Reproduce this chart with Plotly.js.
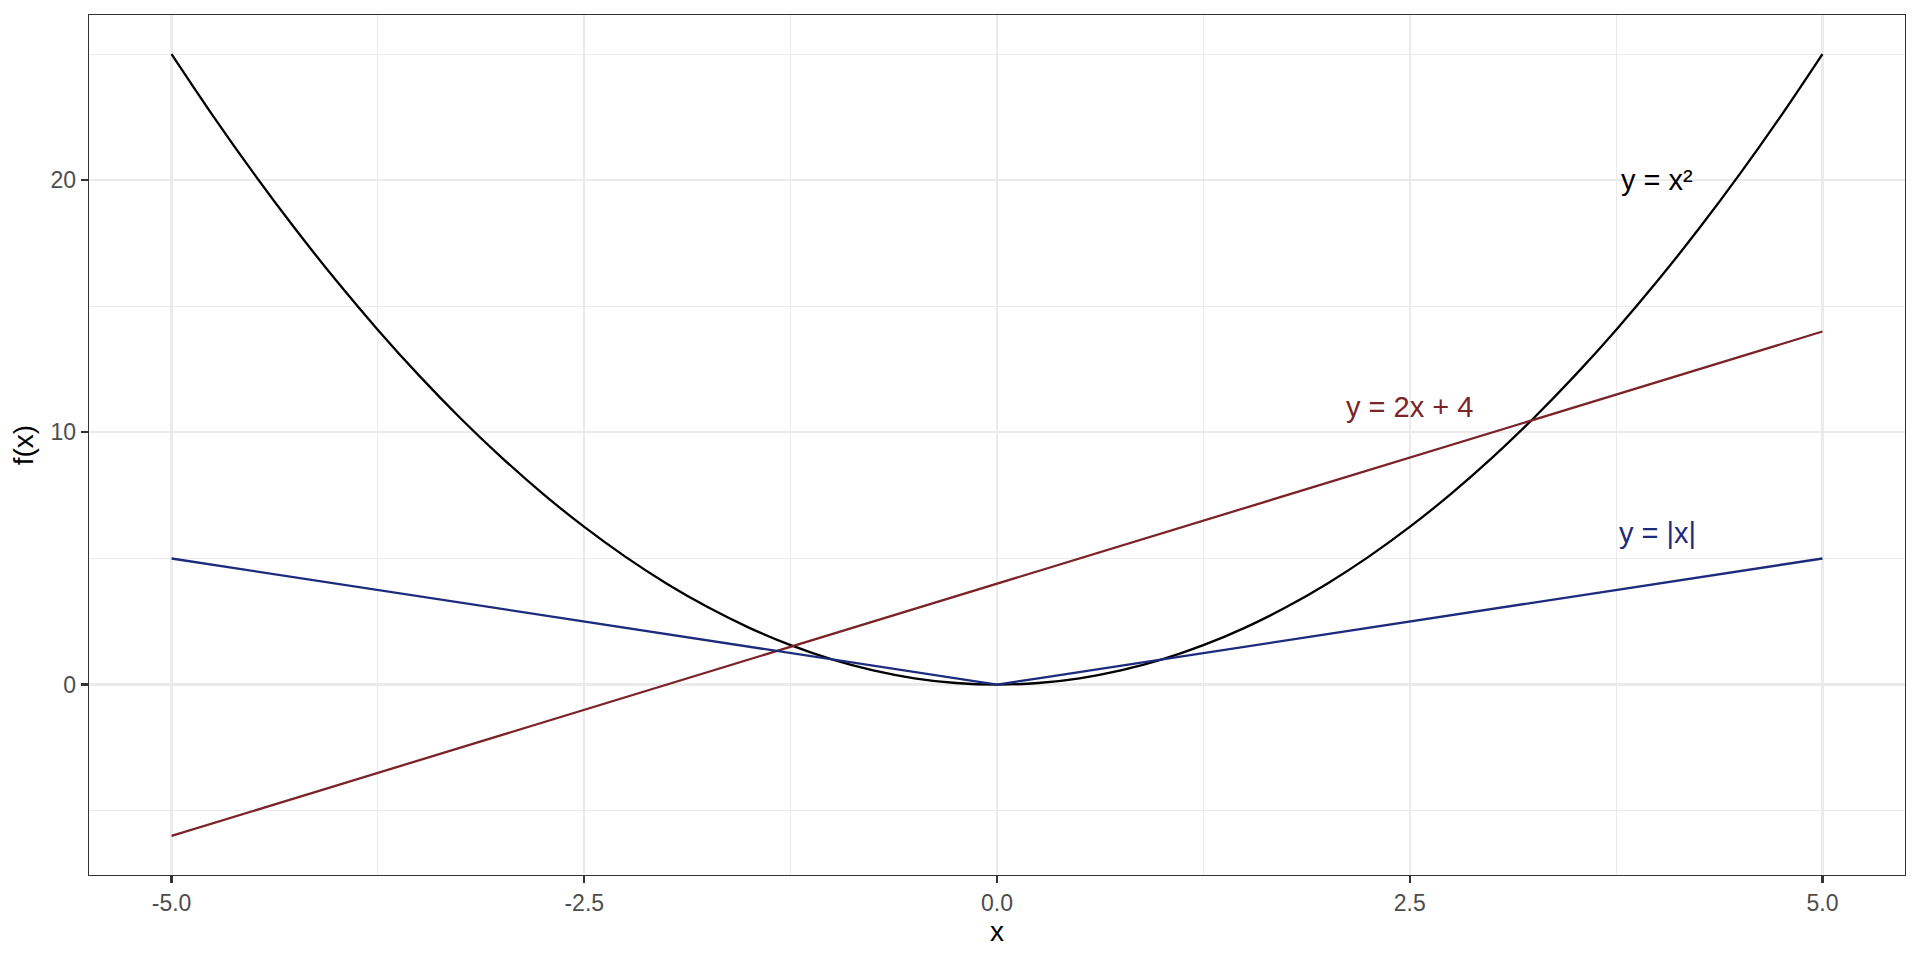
<!DOCTYPE html>
<html>
<head>
<meta charset="utf-8">
<script src="https://cdn.plot.ly/plotly-3.0.1.min.js"></script>
<style>html,body{margin:0;padding:0;background:#fff;}#chart{width:1920px;height:960px;}</style>
</head>
<body>
<div id="chart"></div>
<script>
const xVals = [-5,-4.75,-4.5,-4.25,-4,-3.75,-3.5,-3.25,-3,-2.75,-2.5,-2.25,-2,-1.75,-1.5,-1.25,-1,-0.75,-0.5,-0.25,0,0.25,0.5,0.75,1,1.25,1.5,1.75,2,2.25,2.5,2.75,3,3.25,3.5,3.75,4,4.25,4.5,4.75,5];
const ySquare = [25,22.5625,20.25,18.0625,16,14.0625,12.25,10.5625,9,7.5625,6.25,5.0625,4,3.0625,2.25,1.5625,1,0.5625,0.25,0.0625,0,0.0625,0.25,0.5625,1,1.5625,2.25,3.0625,4,5.0625,6.25,7.5625,9,10.5625,12.25,14.0625,16,18.0625,20.25,22.5625,25];
const yLinear = [-6,-5.5,-5,-4.5,-4,-3.5,-3,-2.5,-2,-1.5,-1,-0.5,0,0.5,1,1.5,2,2.5,3,3.5,4,4.5,5,5.5,6,6.5,7,7.5,8,8.5,9,9.5,10,10.5,11,11.5,12,12.5,13,13.5,14];
const yAbs = [5,4.75,4.5,4.25,4,3.75,3.5,3.25,3,2.75,2.5,2.25,2,1.75,1.5,1.25,1,0.75,0.5,0.25,0,0.25,0.5,0.75,1,1.25,1.5,1.75,2,2.25,2.5,2.75,3,3.25,3.5,3.75,4,4.25,4.5,4.75,5];

const seriesNames = ["y = x²", "y = 2x + 4", "y = |x|"];
const seriesY = [ySquare, yLinear, yAbs];
const seriesColors = ["#000000", "#7B2428", "#1D2B7D"];
const seriesShape = ["spline", "linear", "linear"];
const labelX = [4, 2.5, 4];
const labelY = [20, 11, 6];

const xTickVals = [-5, -2.5, 0, 2.5, 5];
const xTickText = ["-5.0", "-2.5", "0.0", "2.5", "5.0"];
const yTickVals = [0, 10, 20];
const yTickText = ["0", "10", "20"];

const traces = seriesY.map((ys, i) => ({
  x: xVals, y: ys, type: "scatter", mode: "lines", name: seriesNames[i],
  line: {color: seriesColors[i], width: 2.3, shape: seriesShape[i], smoothing: 1}, hoverinfo: "skip"
}));

const font = "Liberation Sans, Arial, sans-serif";
const annotations = seriesNames.map((t, i) => ({
  x: labelX[i], y: labelY[i], xref: "x", yref: "y", text: t, showarrow: false,
  xanchor: "center", yanchor: "middle",
  font: {family: font, size: 29, color: seriesColors[i]}
}));

const layout = {
  width: 1920, height: 960,
  margin: {l: 89, r: 15, t: 15, b: 85},
  paper_bgcolor: "#ffffff", plot_bgcolor: "#ffffff",
  showlegend: false,
  font: {family: font},
  xaxis: {
    range: [-5.5, 5.5], tickmode: "array", tickvals: xTickVals, ticktext: xTickText,
    showgrid: true, gridcolor: "#EBEBEB", gridwidth: 2.2, zeroline: false,
    minor: {tickmode: "array", tickvals: [-3.75, -1.25, 1.25, 3.75], showgrid: true, gridcolor: "#EBEBEB", gridwidth: 1.1, ticks: ""},
    showline: true, mirror: true, linecolor: "#333333", linewidth: 1.3,
    ticks: "outside", ticklen: 7, tickwidth: 2.2, tickcolor: "#333333",
    tickfont: {family: font, size: 23, color: "#4D4D4D"},
    title: {text: "x", font: {family: font, size: 28, color: "#000000"}, standoff: 3}
  },
  yaxis: {
    range: [-7.55, 26.55], tickmode: "array", tickvals: yTickVals, ticktext: yTickText,
    showgrid: true, gridcolor: "#EBEBEB", gridwidth: 2.2, zeroline: false,
    minor: {tickmode: "array", tickvals: [-5, 5, 15, 25], showgrid: true, gridcolor: "#EBEBEB", gridwidth: 1.1, ticks: ""},
    showline: true, mirror: true, linecolor: "#333333", linewidth: 1.3,
    ticks: "outside", ticklen: 7, tickwidth: 2.2, tickcolor: "#333333",
    tickfont: {family: font, size: 23, color: "#4D4D4D"},
    title: {text: "f(x)", font: {family: font, size: 28, color: "#000000"}, standoff: 8}
  },
  annotations: annotations
};

Plotly.newPlot("chart", traces, layout, {displayModeBar: false, staticPlot: true});
</script>
</body>
</html>
